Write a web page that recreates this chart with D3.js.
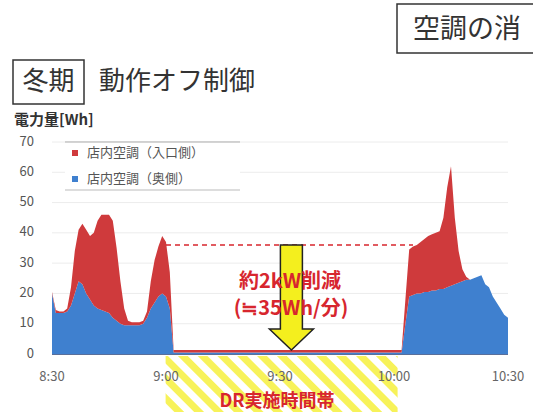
<!DOCTYPE html>
<html>
<head>
<meta charset="utf-8">
<script src="https://cdn.jsdelivr.net/npm/d3@7"></script>
<style>
  html, body { margin: 0; padding: 0; background: #fff; }
  svg { display: block; font-family: "Noto Sans CJK JP", "Noto Sans", sans-serif; }
</style>
</head>
<body>
<svg id="chart" width="533" height="412"></svg>
<script>
// Sample times (minute resolution, DR window reduced to its endpoints)
const times = [
  "8:30","8:31","8:32","8:33","8:34","8:35","8:36","8:37","8:38","8:39",
  "8:40","8:41","8:42","8:43","8:44","8:45","8:46","8:47","8:48","8:49",
  "8:50","8:51","8:52","8:53","8:54","8:55","8:56","8:57","8:58","8:59",
  "9:00","9:01","9:02","9:30","10:02",
  "10:03","10:04","10:05","10:06","10:07","10:08","10:09","10:10","10:11","10:12",
  "10:13","10:14","10:15","10:16","10:17","10:18","10:19","10:20","10:21","10:22",
  "10:23","10:24","10:25","10:26","10:27","10:28","10:29","10:30"
];
// 店内空調（奥側） [Wh]
const backSide = [
  20, 13.5, 13.5, 13.5, 14, 16, 20, 24, 23, 20,
  18, 16, 15, 14.5, 14, 13.5, 12, 11, 10, 9.5,
  9.5, 9.5, 9.5, 9.5, 10, 12, 15, 17, 19, 20,
  19, 15, 0.5, 0.5, 0.5,
  10, 19, 19.5, 20, 20, 20.5, 20.5, 21, 21, 21.5,
  21.5, 22, 22.5, 23, 23.5, 24, 24.5, 24.5, 25, 25.5,
  26, 23, 22, 19, 17, 15, 13, 12
];
// 店内空調（入口側） [Wh]
const entranceSide = [
  0.5, 1, 0.5, 0.5, 1, 6, 14, 17, 20, 21,
  21, 24, 29, 31.5, 32, 32.5, 32, 24, 14, 5.5,
  1.5, 1, 1, 1, 1, 2, 9, 14, 16.5, 19,
  18, 12, 0.8, 0.8, 0.8,
  8, 15.5, 16, 16, 17, 17.5, 18.5, 18.5, 19, 19,
  23.5, 33, 39.5, 22, 10.5, 4, 1, 0, 0, 0,
  0, 0, 0, 0, 0, 0, 0, 0
];
const seriesNames = ["店内空調（入口側）", "店内空調（奥側）"];
const yTicks = [0, 10, 20, 30, 40, 50, 60, 70];
const xTickLabels = ["8:30", "9:00", "9:30", "10:00", "10:30"];
const drWindow = ["9:02", "10:02"];      // operation-off control window
const beforeLevel = 36;                   // typical load before control
const arrowTime = "9:33";
const reductionTip = 1.3;

const parseT = d3.timeParse("%H:%M");
const svg = d3.select("#chart");

const RED = "#cf3a3c", BLUE = "#3f80cf", ACCENT = "#d7262e";

const x = d3.scaleTime()
  .domain([parseT("8:30"), parseT("10:30")])
  .range([52, 508]);
const y = d3.scaleLinear().domain([0, 70]).range([354, 142]);

// ---- headings ----
svg.append("rect").attr("x", 397).attr("y", 4).attr("width", 160).attr("height", 49)
  .attr("fill", "#fff").attr("stroke", "#333").attr("stroke-width", 1.5);
svg.append("text").attr("x", 413).attr("y", 31).attr("dominant-baseline", "middle")
  .attr("font-size", 27).attr("fill", "#333").text("空調の消");

svg.append("rect").attr("x", 13).attr("y", 60).attr("width", 71).attr("height", 44)
  .attr("fill", "none").attr("stroke", "#333").attr("stroke-width", 1.5);
svg.append("text").attr("x", 48.5).attr("y", 83).attr("text-anchor", "middle")
  .attr("dominant-baseline", "middle").attr("font-size", 26).attr("fill", "#333").text("冬期");
svg.append("text").attr("x", 99).attr("y", 83).attr("dominant-baseline", "middle")
  .attr("font-size", 26).attr("fill", "#333").text("動作オフ制御");

svg.append("text").attr("x", 14).attr("y", 121).attr("dominant-baseline", "middle")
  .attr("font-size", 15).attr("font-weight", "bold").attr("fill", "#333").text("電力量[Wh]");

// ---- DR band with diagonal stripes ----
const defs = svg.append("defs");
const pat = defs.append("pattern").attr("id", "stripes")
  .attr("patternUnits", "userSpaceOnUse").attr("width", 14).attr("height", 14)
  .attr("patternTransform", "rotate(-45)");
pat.append("rect").attr("width", 14).attr("height", 14).attr("fill", "#fff");
pat.append("rect").attr("width", 7).attr("height", 14).attr("fill", "#f7f25a");
const dr0 = x(parseT(drWindow[0])) - 8, dr1 = x(parseT(drWindow[1])) - 4;
svg.append("rect").attr("x", dr0).attr("y", y(0) + 2)
  .attr("width", dr1 - dr0).attr("height", 412 - y(0) - 2)
  .attr("fill", "url(#stripes)");

// ---- grid ----
svg.append("g").selectAll("line").data(yTicks.filter(d => d > 0)).join("line")
  .attr("x1", x.range()[0]).attr("x2", x.range()[1])
  .attr("y1", d => y(d)).attr("y2", d => y(d))
  .attr("stroke", "#ececec").attr("stroke-width", 1);

// ---- stacked areas ----
const rows = times.map((t, i) => ({ t: parseT(t), back: backSide[i], entrance: entranceSide[i] }));
const stacked = d3.stack().keys(["back", "entrance"])(rows);
const area = d3.area()
  .x(d => x(d.data.t))
  .y0(d => y(d[0]))
  .y1(d => y(d[1]));
svg.append("g").selectAll("path").data(stacked).join("path")
  .attr("d", area)
  .attr("fill", (d, i) => i === 0 ? BLUE : RED);

// baseline
svg.append("line").attr("x1", x.range()[0]).attr("x2", x.range()[1])
  .attr("y1", y(0) + 0.5).attr("y2", y(0) + 0.5).attr("stroke", "#5a6f9a").attr("stroke-width", 1);

// ---- y axis labels ----
svg.append("g").selectAll("text").data(yTicks).join("text")
  .attr("x", 34).attr("y", d => y(d)).attr("text-anchor", "end")
  .attr("dominant-baseline", "middle").attr("font-size", 13).attr("fill", "#555")
  .text(d => d);

// ---- x axis labels ----
svg.append("g").selectAll("text").data(xTickLabels).join("text")
  .attr("x", d => x(parseT(d))).attr("y", 377).attr("text-anchor", "middle")
  .attr("dominant-baseline", "middle").attr("font-size", 13).attr("fill", "#666")
  .text(d => d);

// ---- pre-control level and reduction arrow ----
svg.append("line")
  .attr("x1", x(parseT("9:00"))).attr("x2", x(parseT("10:05")))
  .attr("y1", y(beforeLevel)).attr("y2", y(beforeLevel))
  .attr("stroke", ACCENT).attr("stroke-width", 1.5).attr("stroke-dasharray", "5,4");

const ax = x(parseT(arrowTime));
const aTop = y(beforeLevel), aTip = y(reductionTip), headTop = aTip - 21;
const arrowPts = [
  [ax - 11, aTop], [ax + 11, aTop], [ax + 11, headTop], [ax + 22, headTop],
  [ax, aTip], [ax - 22, headTop], [ax - 11, headTop]
];
svg.append("path").attr("d", d3.line()(arrowPts) + "Z")
  .attr("fill", "#f4ef1e").attr("stroke", "#222").attr("stroke-width", 1.5)
  .attr("stroke-linejoin", "miter");

svg.append("text").attr("x", 290).attr("y", 283).attr("text-anchor", "middle")
  .attr("dominant-baseline", "middle").attr("font-size", 20).attr("font-weight", "bold")
  .attr("fill", ACCENT).text("約2kW削減");
svg.append("text").attr("x", 291).attr("y", 310).attr("text-anchor", "middle")
  .attr("dominant-baseline", "middle").attr("font-size", 20).attr("font-weight", "bold")
  .attr("fill", ACCENT).text("(≒35Wh/分)");

svg.append("text").attr("x", 277).attr("y", 402).attr("text-anchor", "middle")
  .attr("dominant-baseline", "middle").attr("font-size", 18).attr("font-weight", "bold")
  .attr("fill", ACCENT).text("DR実施時間帯");

// ---- legend ----
const lg = svg.append("g");
lg.append("rect").attr("x", 65).attr("y", 142).attr("width", 175).attr("height", 48).attr("fill", "#fff");
lg.append("line").attr("x1", 65).attr("x2", 240).attr("y1", 142).attr("y2", 142).attr("stroke", "#aaa");
lg.append("line").attr("x1", 65).attr("x2", 240).attr("y1", 190).attr("y2", 190).attr("stroke", "#bbb");
const legendItems = [{ name: seriesNames[0], color: RED }, { name: seriesNames[1], color: BLUE }];
const li = lg.selectAll("g.item").data(legendItems).join("g")
  .attr("transform", (d, i) => `translate(0, ${153 + i * 26})`);
li.append("rect").attr("x", 72).attr("y", -3).attr("width", 6).attr("height", 6).attr("fill", d => d.color);
li.append("text").attr("x", 87).attr("y", 0).attr("dominant-baseline", "middle")
  .attr("font-size", 13).attr("fill", "#555").text(d => d.name);
</script>
</body>
</html>
